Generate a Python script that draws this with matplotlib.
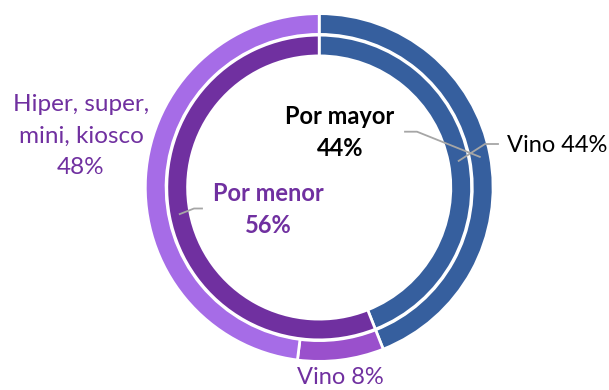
import numpy as np
import matplotlib.pyplot as plt

plt.rcParams['font.family'] = ['Lato', 'DejaVu Sans']

# outer ring: products by channel, inner ring: channel totals
outer_labels = ['Vino', 'Vino', 'Hiper, super,\nmini, kiosco']
outer_values = [44, 8, 48]
outer_colors = ['#365F9E', '#9A50CC', '#A66CE7']

inner_labels = ['Por mayor', 'Por menor']
inner_values = [44, 56]
inner_colors = ['#365F9E', '#7030A0']

purple = '#7030A0'
grey = '#A6A6A6'

W, H = 609, 390
fig = plt.figure(figsize=(W / 100, H / 100), dpi=100)
ax = fig.add_axes([0, 0, 1, 1])

cx, cy = 319.2, H - 187.5
lw = 2.0
edge = dict(edgecolor='white', linewidth=lw)

ax.pie(outer_values, colors=outer_colors, radius=173.9, center=(cx, cy),
       startangle=90, counterclock=False,
       wedgeprops=dict(width=20.8, **edge))
ax.pie(inner_values, colors=inner_colors, radius=152.4, center=(cx, cy),
       startangle=90, counterclock=False,
       wedgeprops=dict(width=20.8, **edge))

ax.set_xlim(0, W)
ax.set_ylim(0, H)
ax.set_aspect('equal')
ax.axis('off')


def mid_point(values, i, r):
    # point at the middle angle of wedge i, clockwise from 12 o'clock
    start = sum(values[:i])
    frac = (start + values[i] / 2) / sum(values)
    a = np.deg2rad(90 - 360 * frac)
    return cx + r * np.cos(a), cy + r * np.sin(a)


r_outer_mid = 163.5
r_inner_mid = 142
fs = 17

# inner ring labels
ax.text(340, H - 132.5, f'{inner_labels[0]}\n{inner_values[0]}%', ha='center', va='center',
        fontsize=fs, fontweight='bold', color='black', linespacing=1.5)
px, py = mid_point(inner_values, 0, r_outer_mid)
ax.plot([405, 417, px], [H - 131.7, H - 131.7, py], color=grey, lw=1.3)

ax.text(268, H - 209.5, f'{inner_labels[1]}\n{inner_values[1]}%', ha='center', va='center',
        fontsize=fs, fontweight='bold', color=purple, linespacing=1.5)
px, py = mid_point(inner_values, 1, r_inner_mid)
ax.plot([202, 194, px], [H - 208.5, H - 208.5, py], color=grey, lw=1.3)

# outer ring labels
ax.text(507, H - 146, f'{outer_labels[0]} {outer_values[0]}%', ha='left', va='center',
        fontsize=fs, color='black')
px, py = mid_point(outer_values, 0, r_inner_mid)
ax.plot([498, 485, px], [H - 144, H - 144, py], color=grey, lw=1.3)

ax.text(340, H - 377, f'{outer_labels[1]} {outer_values[1]}%', ha='center', va='center',
        fontsize=fs, color=purple)

ax.text(81, H - 136, f'{outer_labels[2]}\n{outer_values[2]}%', ha='center', va='center',
        fontsize=17.5, color=purple, linespacing=1.62)

fig.savefig('out.png', dpi=100)
